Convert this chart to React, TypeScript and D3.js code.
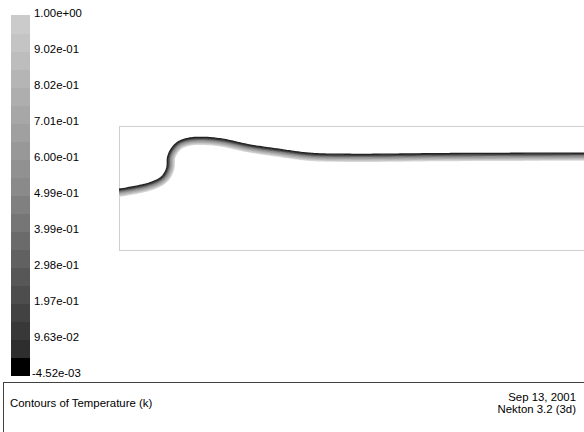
import React, { useLayoutEffect, useRef, useState } from "react";
import * as d3 from "d3";

// Colorbar tick labels (top to bottom) — every second band boundary
const tickLabels = [
  "1.00e+00", "9.02e-01", "8.02e-01", "7.01e-01", "6.00e-01", "4.99e-01",
  "3.99e-01", "2.98e-01", "1.97e-01", "9.63e-02", "-4.52e-03",
];
const bandCount = 20;

// Interface (temperature front) in domain coordinates
const interfaceX = [0, 0.236, 0.344, 0.385, 0.393, 0.425, 0.479, 0.56, 0.667, 0.828, 1.056, 1.272, 1.54, 1.863, 2.669, 3.75];
const interfaceY = [0.49, 0.538, 0.591, 0.661, 0.752, 0.82, 0.873, 0.901, 0.909, 0.895, 0.847, 0.815, 0.78, 0.772, 0.778, 0.782];
const contourLevels = [0, 1, 2, 3, 4, 5, 6, 7, 8, 9, 10];

const titleText = "Contours of Temperature (k)";
const dateText = "Sep 13, 2001";
const versionText = "Nekton 3.2 (3d)";

const W = 584;
const H = 432;
const FONT = "'Liberation Sans', Arial, sans-serif";
const FS = 11.4;

export default function App() {
  const pathRef = useRef<SVGPathElement | null>(null);
  const [offsets, setOffsets] = useState<string[]>([]);

  const x = d3.scaleLinear().domain([0, 3.75]).range([119, 584]);
  const y = d3.scaleLinear().domain([0, 1]).range([250, 126]);

  const barY = d3.scaleLinear().domain([0, bandCount]).range([375, 15]);
  const bandGray = d3.scaleLinear<string>().domain([1, 10, bandCount - 1]).range(["#2e2e2e", "#8a8a8a", "#cbcbcb"]);
  const nL = contourLevels.length - 1;
  const lineGray = d3.scaleLinear<string>().domain([0, 1, 4, nL]).range(["#222222", "#3c3c3c", "#8a8a8a", "#dadada"]);
  const offsetScale = d3.scaleLinear().domain([0, nL]).range([0, 7]);

  const pts: [number, number][] = interfaceX.map((v, i) => [x(v), y(interfaceY[i])]);
  const basePath = d3.line().curve(d3.curveCatmullRom.alpha(0.5))(pts) || "";

  useLayoutEffect(() => {
    const p = pathRef.current;
    if (!p) return;
    const len = p.getTotalLength();
    const n = Math.ceil(len / 1.5);
    const samples: { x: number; y: number }[] = [];
    for (let i = 0; i <= n; i++) {
      const pt = p.getPointAtLength((len * i) / n);
      samples.push({ x: pt.x, y: pt.y });
    }
    const res = contourLevels.map((lv) => {
      const d = offsetScale(lv);
      const arr: [number, number][] = samples.map((s, i) => {
        const a = samples[Math.max(0, i - 1)];
        const b = samples[Math.min(samples.length - 1, i + 1)];
        let tx = b.x - a.x;
        let ty = b.y - a.y;
        const l = Math.hypot(tx, ty) || 1;
        tx /= l;
        ty /= l;
        return [s.x - ty * d, s.y + tx * d];
      });
      const first = arr[0];
      arr.unshift([first[0] - 20, first[1] + 0.5]);
      return d3.line()(arr) || "";
    });
    setOffsets(res);
  }, [basePath]);

  return (
    <svg width={W} height={H} style={{ position: "absolute", left: 0, top: 0, background: "#fff" }} fontFamily={FONT}>
      <rect x={0} y={0} width={W} height={H} fill="#fff" />
      <defs>
        <clipPath id="dom">
          <rect x={x(0)} y={y(1)} width={x(4) - x(0)} height={y(0) - y(1)} />
        </clipPath>
      </defs>

      {/* colorbar */}
      {d3.range(bandCount).map((k) => (
        <rect
          key={k}
          x={11}
          y={barY(k + 1)}
          width={19}
          height={barY(k) - barY(k + 1) + 0.5}
          fill={k === 0 ? "#000" : bandGray(k)}
          shapeRendering="crispEdges"
        />
      ))}
      {tickLabels.map((t, i) => (
        <text
          key={t}
          x={t.startsWith("-") ? 32 : 34}
          y={barY(bandCount - 2 * i) + 1.5}
          fontSize={FS}
          fill="#000"
        >
          {t}
        </text>
      ))}

      {/* domain box */}
      <rect
        x={x(0) + 0.5}
        y={y(1) + 0.5}
        width={x(4) - x(0)}
        height={y(0) - y(1)}
        fill="none"
        stroke="#cfcfcf"
        strokeWidth={1}
        shapeRendering="crispEdges"
      />

      {/* contour lines */}
      <path ref={pathRef} d={basePath} fill="none" stroke="none" />
      <g clipPath="url(#dom)">
        {offsets
          .map((d, i) => ({ d, i }))
          .reverse()
          .map(({ d, i }) => (
            <path key={i} d={d} fill="none" stroke={lineGray(i)} strokeWidth={1.3} />
          ))}
      </g>

      {/* title box */}
      <rect x={3.5} y={382.5} width={620} height={80} fill="none" stroke="#404040" strokeWidth={1} shapeRendering="crispEdges" />
      <text x={10} y={407} fontSize={FS} fill="#000">{titleText}</text>
      <text x={576} y={401} fontSize={FS} fill="#000" textAnchor="end">{dateText}</text>
      <text x={576} y={413} fontSize={FS} fill="#000" textAnchor="end">{versionText}</text>
    </svg>
  );
}
